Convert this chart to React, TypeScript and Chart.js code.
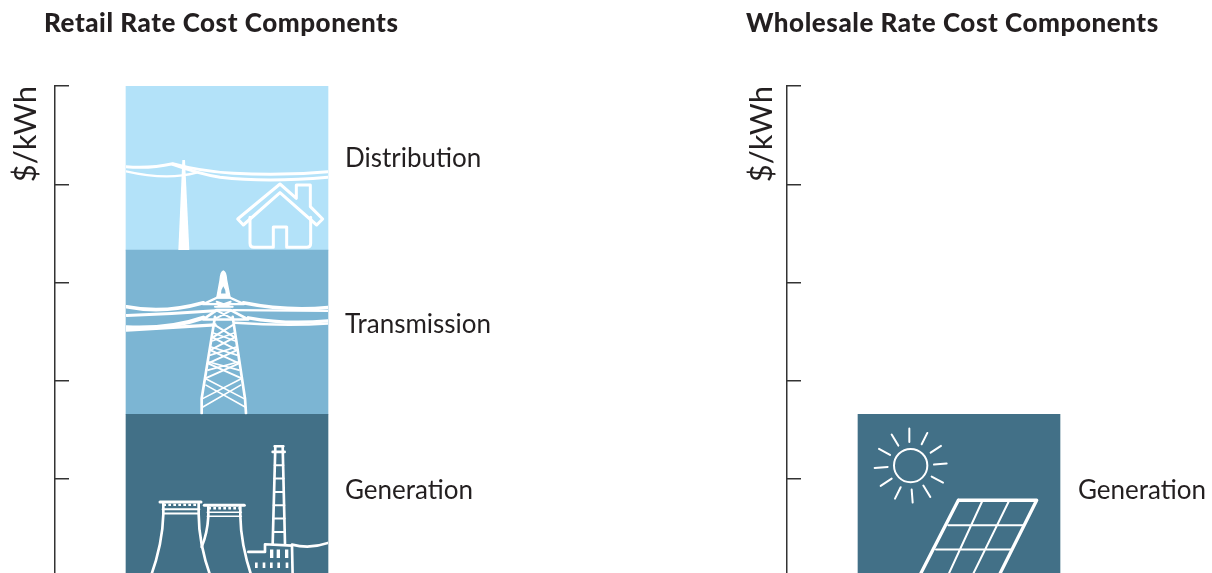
import React, { useEffect, useRef } from "react";
import { Chart, registerables } from "chart.js";

Chart.register(...registerables);

// Cost components, in axis units, stacked from the bottom up.
const retailComponents = ["Generation", "Transmission", "Distribution"];
const retailValues = [1.66, 1.67, 1.67];
const retailLabelLevels = [0.88, 2.57, 4.26];

const wholesaleComponents = ["Generation"];
const wholesaleValues = [1.66];
const wholesaleLabelLevels = [0.88];

const axisTicks = [0, 1, 2, 3, 4, 5];
const axisUnit = "$/kWh";

const palette: Record<string, string> = {
  Generation: "#427087",
  Transmission: "#7CB5D3",
  Distribution: "#B3E2F9",
};

type Stroke = { d: string; w: number; dash?: number[] };
type Icon = { origin: [number, number]; strokes: Stroke[]; fills: string[]; cutouts?: string[] };

// Line art is authored on a 3x grid; each icon is anchored to the top-left of its bar.
const houseIcon: Icon = {
  origin: [378, 48],
  fills: ["M547 270 L555 270 L568 540 L535 540 Z"],
  strokes: [
    { d: "M378 290 Q450 296 518 281 Q600 304 700 310 Q850 318 984 305", w: 9 },
    { d: "M378 304 Q500 332 590 308", w: 7 },
    { d: "M518 283 Q600 312 660 322 Q800 338 984 322", w: 9 },
    { d: "M840 342 L889 385 L889 345 L931 345 L931 410 L968 447 L950 465 L840 368 L730 465 L713 447 Z", w: 9 },
    { d: "M750 442 L750 520 Q750 532 762 532 L820 532 L820 471 L860 471 L860 532 L920 532 Q932 532 932 520 L932 442", w: 9 },
  ],
};

const pylonIcon: Icon = {
  origin: [18, 0],
  fills: ["M310 60 Q320 62 322 90 L333 145 L288 145 L298 90 Q300 62 310 60 Z"],
  cutouts: ["M310 108 Q317 118 317 130 L303 130 Q303 118 310 108 Z"],
  strokes: [
    { d: "M20 170 Q130 192 250 158", w: 11 },
    { d: "M20 196 Q150 192 285 182", w: 9 },
    { d: "M20 232 Q150 238 250 203", w: 13 },
    { d: "M20 240 L285 224", w: 10 },
    { d: "M370 158 Q500 184 624 172", w: 11 },
    { d: "M340 180 L624 182", w: 7 },
    { d: "M385 203 Q500 224 624 212", w: 10 },
    { d: "M345 218 Q500 228 624 220", w: 8 },
    { d: "M250 162 L292 142 L329 142 L372 162 Z", w: 7 },
    { d: "M250 208 L290 180 L332 180 L385 208 Z", w: 8 },
    { d: "M285 170 L338 170 M290 155 L332 170 M332 155 L290 170 M288 180 L335 205 M335 180 L288 205", w: 6 },
    { d: "M285 200 L245 445 L245 490", w: 8 },
    { d: "M338 200 L375 445 L378 490", w: 8 },
    { d: "M285 225 L344 262 M338 225 L278 262 M278 262 L351 300 M344 262 L271 300 M271 300 L357 340 M351 300 L264 340 M264 340 L365 385 M357 340 L256 385", w: 6 },
    { d: "M278 248 L344 272 M344 248 L278 272 M271 290 L351 315 M351 290 L271 315 M264 335 L357 360 M357 335 L264 360", w: 5 },
    { d: "M256 385 L375 447 M365 385 L245 447 M258 405 L378 472 M362 405 L246 472", w: 5 },
  ],
};

const plantIcon: Icon = {
  origin: [18, 12],
  fills: [
    "M450 418 H460 V443 H450 Z M470 418 H480 V443 H470 Z M495 418 H505 V443 H495 Z",
    "M405 457 H413 V473 H405 Z M428 457 H436 V473 H428 Z M450 457 H458 V473 H450 Z M472 457 H480 V473 H472 Z M497 457 H505 V473 H497 Z",
  ],
  strokes: [
    { d: "M120 275 L243 275", w: 9 },
    { d: "M130 284 L238 284", w: 7, dash: [8, 7] },
    { d: "M128 297 L238 297 M130 310 L235 310", w: 6 },
    { d: "M130 280 L130 312 Q128 400 92 500", w: 8 },
    { d: "M236 280 L236 312 Q236 400 272 500", w: 8 },
    { d: "M253 285 L373 285", w: 9 },
    { d: "M265 294 L362 294", w: 7, dash: [8, 7] },
    { d: "M262 306 L364 306 M262 318 L364 318", w: 5 },
    { d: "M265 290 L265 318 Q262 370 245 410", w: 8 },
    { d: "M361 290 L361 318 Q362 400 395 500", w: 8 },
    { d: "M464 108 L490 108 M458 125 L494 125", w: 8 },
    { d: "M466 108 L458 402 M488 108 L495 402", w: 8 },
    { d: "M464 165 L490 165 M463 205 L491 205 M462 245 L492 245 M461 285 L493 285 M460 325 L494 325 M459 365 L494 365", w: 6 },
    { d: "M385 425 L435 425 L435 402 L516 406 L518 500", w: 8 },
    { d: "M516 403 Q570 417 624 398", w: 8 },
  ],
};

const solarIcon: Icon = {
  origin: [24, 12],
  fills: [],
  strokes: [
    { d: "M232 166 A50 50 0 1 1 132 166 A50 50 0 1 1 232 166 Z", w: 6 },
    {
      d: "M178 55 L178 95 M232 68 L215 102 M273 107 L242 127 M290 160 L252 163 M279 217 L245 199 M241 260 L220 226 M188 277 L185 238 M135 265 L152 231 M92 227 L125 205 M74 173 L113 170 M87 116 L120 134 M125 73 L145 106",
      w: 6,
    },
    { d: "M325 270 L560 270 L445 500 M325 270 L207 500", w: 10 },
    { d: "M295 345 L520 345 M258 418 L482 418 M398 270 L292 500 M478 270 L365 500", w: 6 },
  ],
};

const drawIcon = (ctx: CanvasRenderingContext2D, bar: any, icon: Icon, fillBehind: string) => {
  ctx.save();
  const left = bar.x - bar.width / 2;
  ctx.beginPath();
  ctx.rect(left, bar.y, bar.width, bar.base - bar.y);
  ctx.clip();
  ctx.translate(left, bar.y);
  ctx.scale(1 / 3, 1 / 3);
  ctx.translate(-icon.origin[0], -icon.origin[1]);
  ctx.strokeStyle = "#FFFFFF";
  ctx.fillStyle = "#FFFFFF";
  ctx.lineCap = "round";
  ctx.lineJoin = "round";
  icon.strokes.forEach((s) => {
    ctx.lineWidth = s.w;
    ctx.lineCap = s.dash ? "butt" : "round";
    ctx.setLineDash(s.dash ?? []);
    ctx.stroke(new Path2D(s.d));
  });
  ctx.setLineDash([]);
  icon.fills.forEach((d) => ctx.fill(new Path2D(d)));
  ctx.fillStyle = fillBehind;
  (icon.cutouts ?? []).forEach((d) => ctx.fill(new Path2D(d)));
  ctx.restore();
};

type Panel = {
  title: string;
  titleX: number;
  canvasLeft: number;
  canvasWidth: number;
  axisLeft: number;
  axisWidth: number;
  areaRight: number;
  titlePad: number;
  labelGap: number;
  components: string[];
  values: number[];
  labelLevels: number[];
  icons: Icon[];
};

const panels: Panel[] = [
  {
    title: "Retail Rate Cost Components",
    titleX: 44,
    canvasLeft: 0,
    canvasWidth: 606,
    axisLeft: 0,
    axisWidth: 55,
    areaRight: 207,
    titlePad: 7,
    labelGap: 17,
    components: retailComponents,
    values: retailValues,
    labelLevels: retailLabelLevels,
    icons: [plantIcon, pylonIcon, houseIcon],
  },
  {
    title: "Wholesale Rate Cost Components",
    titleX: 140,
    canvasLeft: 606,
    canvasWidth: 606,
    axisLeft: 130,
    axisWidth: 51,
    areaRight: 81,
    titlePad: 7,
    labelGap: 18,
    components: wholesaleComponents,
    values: wholesaleValues,
    labelLevels: wholesaleLabelLevels,
    icons: [solarIcon],
  },
];

const TEXT = "#231F20";
const AXIS = "#333333";
const FONT = "Lato";

const PanelChart = ({ panel }: { panel: Panel }) => {
  const ref = useRef<HTMLCanvasElement>(null);

  useEffect(() => {
    if (!ref.current) return;
    const overlay = {
      id: "componentOverlay",
      afterDatasetsDraw(chart: any) {
        const { ctx, scales } = chart;
        panel.components.forEach((name, i) => {
          const bar = chart.getDatasetMeta(i).data[0];
          drawIcon(ctx, bar, panel.icons[i], palette[name]);
          ctx.save();
          ctx.font = `400 26px ${FONT}`;
          ctx.fillStyle = TEXT;
          ctx.textAlign = "left";
          ctx.textBaseline = "middle";
          ctx.fillText(name, bar.x + bar.width / 2 + panel.labelGap, scales.y.getPixelForValue(panel.labelLevels[i]));
          ctx.restore();
        });
        ctx.save();
        ctx.font = `900 26px ${FONT}`;
        (ctx as any).letterSpacing = "0.55px";
        ctx.fillStyle = TEXT;
        ctx.textAlign = "left";
        ctx.textBaseline = "middle";
        ctx.fillText(panel.title, panel.titleX, 24);
        ctx.restore();
      },
    };
    const chart = new Chart(ref.current, {
      type: "bar",
      data: {
        labels: [""],
        datasets: panel.components.map((name, i) => ({
          label: name,
          data: [panel.values[i]],
          backgroundColor: palette[name],
          borderWidth: 0,
          categoryPercentage: 1,
          barThickness: 202,
        })),
      },
      plugins: [overlay],
      options: {
        responsive: false,
        animation: false,
        layout: { padding: { top: 86, bottom: 12.6, left: panel.axisLeft, right: panel.areaRight } },
        plugins: { legend: { display: false }, title: { display: false }, tooltip: { enabled: false } },
        scales: {
          x: { stacked: true, display: false },
          y: {
            stacked: true,
            min: axisTicks[0],
            max: axisTicks[axisTicks.length - 1],
            afterFit: (scale: any) => {
              scale.width = panel.axisWidth;
            },
            afterBuildTicks: (scale: any) => {
              scale.ticks = axisTicks.map((value) => ({ value }));
            },
            border: { display: true, color: AXIS, width: 1.5 },
            grid: { drawOnChartArea: false, drawTicks: true, tickLength: -14, color: AXIS, lineWidth: 1.5 },
            ticks: { display: false },
            title: {
              display: true,
              text: axisUnit,
              align: "end",
              color: TEXT,
              font: { family: FONT, size: 31, weight: "400" },
              padding: { top: panel.titlePad, bottom: 0 },
            },
          },
        },
      },
    } as any);
    return () => chart.destroy();
  }, [panel]);

  return (
    <canvas
      ref={ref}
      width={panel.canvasWidth}
      height={590}
      style={{ position: "absolute", left: panel.canvasLeft, top: 0, display: "block" }}
    />
  );
};

export default function App() {
  return (
    <div style={{ position: "fixed", left: 0, top: 0, width: 1212, height: 573, overflow: "hidden", background: "#FFFFFF" }}>
      {panels.map((p) => (
        <PanelChart key={p.title} panel={p} />
      ))}
    </div>
  );
}
